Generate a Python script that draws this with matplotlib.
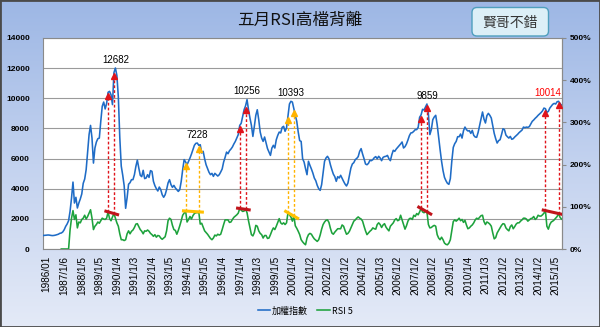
import numpy as np
import matplotlib
matplotlib.use('Agg')
import matplotlib.pyplot as plt
from matplotlib.patches import FancyBboxPatch, Rectangle
from matplotlib.colors import LinearSegmentedColormap
import matplotlib.transforms as mtransforms

plt.rcParams['font.family'] = ['Liberation Sans', 'Noto Sans CJK TC', 'DejaVu Sans']
CJK = ['Noto Sans CJK TC', 'DejaVu Sans']

# ---------------- data (monthly, starting 1986/01) ----------------
tick_labels = ['1986/01', '1987/1/6', '1988/1/5', '1989/1/5', '1990/1/4', '1991/1/3',
               '1992/1/4', '1993/1/5', '1994/1/5', '1995/1/5', '1996/1/4', '1997/1/4',
               '1998/1/3', '1999/1/5', '2000/1/4', '2001/1/2', '2002/1/2', '2003/1/2',
               '2004/1/2', '2005/1/3', '2006/1/2', '2007/1/2', '2008/1/2', '2009/1/5',
               '2010/1/4', '2011/1/3', '2012/1/2', '2013/1/2', '2014/1/2', '2015/1/5']

taiex = [
    900, 910, 920, 930, 920, 900, 890, 900, 920, 950, 980, 1040,            # 1986
    1060, 1130, 1280, 1500, 1660, 1880, 2500, 3380, 4440, 3050, 3430, 2720,  # 1987
    3050, 3320, 3650, 4360, 4640, 5260, 6430, 7590, 8200, 7360, 5700, 6700,  # 1988
    7100, 7320, 7360, 8470, 9470, 9750, 9290, 9660, 10400, 10460, 10240, 9580,  # 1989
    11700, 12010, 11520, 10100, 7400, 5500, 4900, 4200, 2700, 3400, 4300, 4400,  # 1990
    4600, 4600, 4930, 5480, 5900, 5370, 4890, 4800, 5220, 4670, 4710, 4930,  # 1991
    4750, 5200, 5150, 4490, 4200, 4000, 3850, 4110, 3940, 3600, 3430, 3600,  # 1992
    3940, 4380, 4600, 4270, 4090, 4220, 4050, 3940, 3820, 3940, 4490, 5260,  # 1993
    5930, 5770, 5590, 5820, 6040, 6300, 6590, 6880, 7010, 7030, 6880, 6920,  # 1994
    6370, 6480, 5990, 5590, 5330, 5090, 4930, 5020, 4820, 5020, 4930, 4840,  # 1995
    4930, 5110, 5310, 5770, 6080, 6430, 6320, 6520, 6630, 6770, 6970, 7140,  # 1996
    7360, 7590, 8200, 8340, 8780, 9240, 9500, 9910, 9240, 8690, 8200, 7470,  # 1997
    8140, 8870, 9240, 8580, 7760, 7360, 7140, 7430, 7030, 6660, 6430, 6210,  # 1998
    6700, 6880, 6700, 7250, 7540, 7760, 7700, 8070, 8140, 7810, 8030, 8800,  # 1999
    9620, 9800, 9750, 9310, 8870, 8470, 7760, 7190, 7140, 5990, 5770, 5330,  # 2000
    4930, 5820, 5550, 5310, 5040, 4710, 4530, 4220, 4000, 3890, 4270, 5040,  # 2001
    5820, 6040, 6150, 5990, 5590, 5260, 4970, 4800, 4490, 4800, 4710, 4890,  # 2002
    4690, 4490, 4310, 4180, 4380, 4890, 5370, 5640, 5730, 5930, 6010, 6130,  # 2003
    6480, 6660, 6300, 5990, 5640, 5590, 5680, 5880, 5860, 5930, 6060, 6130,  # 2004
    5990, 6150, 6040, 5860, 6080, 6130, 6150, 6210, 5990, 5860, 6260, 6550,  # 2005
    6480, 6630, 6740, 6850, 6970, 7100, 6700, 6790, 6970, 7230, 7520, 7700,  # 2006
    7720, 7810, 7920, 7920, 8070, 8740, 8900, 9270, 9220, 9420, 9620, 8960,  # 2007
    7590, 7920, 8580, 8760, 8870, 8250, 7410, 6590, 5820, 5200, 4750, 4530,  # 2008
    4360, 4290, 4670, 5820, 6740, 6990, 7140, 7450, 7450, 7630, 7360, 7850,  # 2009
    8090, 7920, 7830, 7850, 7670, 7870, 7540, 7430, 7410, 7740, 8200, 8690,  # 2010
    9090, 8620, 8360, 8850, 9000, 8870, 8690, 8160, 7670, 7320, 7030, 7190,  # 2011
    7250, 7590, 7980, 7920, 7560, 7450, 7360, 7470, 7280, 7320, 7430, 7520,  # 2012
    7610, 7720, 7810, 7890, 8090, 8050, 8090, 8070, 8120, 8290, 8470, 8560,  # 2013
    8670, 8760, 8870, 8960, 9050, 9160, 9350, 9310, 9070, 9130, 9350, 9470,  # 2014
    9600, 9660, 9620, 9770, 9800, 9640, 9550,                                # 2015
]

rsi5 = [np.nan] * 12 + [
    0, 0, 0, 0, 0, 0, 45, 73, 91, 70, 81, 50,                 # 1987
    64, 62, 70, 73, 80, 71, 77, 85, 93, 73, 46, 54,           # 1988
    58, 64, 61, 67, 73, 71, 70, 73, 88, 72, 67, 76,           # 1989
    84, 73, 62, 54, 36, 22, 22, 20, 22, 36, 43, 36,           # 1990
    42, 45, 51, 59, 60, 53, 46, 42, 36, 43, 42, 45,           # 1991
    42, 37, 34, 30, 34, 28, 32, 31, 26, 23, 26, 29,           # 1992
    43, 67, 73, 70, 56, 46, 44, 35, 44, 55, 67, 80,           # 1993
    85, 90, 64, 70, 77, 71, 79, 84, 86, 86, 88, 59,           # 1994
    61, 52, 43, 39, 35, 30, 25, 22, 26, 33, 31, 35,           # 1995
    33, 35, 46, 58, 69, 69, 69, 63, 64, 70, 75, 78,           # 1996
    81, 85, 96, 92, 89, 90, 94, 86, 67, 50, 34, 31,           # 1997
    39, 56, 54, 43, 37, 34, 26, 32, 32, 25, 26, 34,           # 1998
    43, 50, 46, 54, 63, 72, 62, 59, 62, 58, 62, 86,           # 1999
    81, 76, 66, 78, 55, 49, 42, 34, 22, 17, 13, 10,           # 2000
    26, 34, 37, 35, 29, 24, 21, 18, 22, 33, 47, 58,           # 2001
    64, 68, 69, 63, 49, 38, 35, 40, 44, 48, 48, 48,           # 2002
    57, 54, 44, 35, 37, 42, 50, 58, 66, 69, 73, 76,           # 2003
    73, 71, 66, 54, 43, 34, 38, 42, 45, 50, 48, 47,           # 2004
    58, 62, 58, 51, 57, 60, 52, 47, 43, 54, 58, 62,           # 2005
    69, 72, 67, 69, 80, 69, 58, 47, 55, 66, 72, 73,           # 2006
    70, 80, 77, 84, 81, 88, 96, 88, 86, 89, 88, 58,           # 2007
    50, 51, 54, 56, 54, 34, 26, 22, 28, 22, 14, 11,           # 2008
    10, 14, 22, 43, 65, 69, 66, 69, 73, 67, 70, 63,           # 2009
    68, 57, 48, 50, 54, 57, 62, 69, 73, 71, 75, 79,           # 2010
    80, 65, 58, 64, 62, 59, 54, 38, 24, 27, 38, 44,           # 2011
    50, 56, 60, 59, 50, 46, 43, 53, 57, 48, 53, 59,           # 2012
    62, 62, 66, 69, 73, 73, 71, 66, 69, 72, 73, 77,           # 2013
    70, 73, 80, 78, 78, 81, 85, 91, 54, 47, 58, 64,           # 2014
    66, 69, 73, 77, 84, 75, 71,                               # 2015
]

# divergence annotations: (first index, second index, colour kind, peak text)
div_first = [44, 97, 134, 167, 258, 343]
div_second = [48, 106, 138, 171, 262, 352]
div_kind = ['red', 'orange', 'red', 'orange', 'red', 'red']
peak_text = ['12682', '7228', '10256', '10393', '9859', '10014']
peak_text_color = ['black', 'black', 'black', 'black', 'black', '#FF0000']
peak_text_dx = [0, 0, 0, 0, 0, -8]

# ---------------- figure ----------------
W, H = 600, 327
fig = plt.figure(figsize=(W / 100, H / 100), dpi=100)

bg = fig.add_axes([0, 0, 1, 1], zorder=-10)
cmap = LinearSegmentedColormap.from_list('bg', ['#9DB7E5', '#C3D2EF', '#E4EAF7'])
bg.imshow(np.linspace(0, 1, 256).reshape(-1, 1), cmap=cmap, aspect='auto',
          extent=[0, 1, 0, 1], origin='upper')
bg.set_axis_off()

ax = fig.add_axes([43 / W, 1 - 249 / H, (561.5 - 43) / W, 211 / H])
ax.set_facecolor('white')

x = np.arange(len(taiex))
taiex_a = np.array(taiex, dtype=float)
rsi_a = np.array(rsi5, dtype=float)
ymax = 14000
rmax = 500
scale = ymax / rmax

blue = '#1F6CC6'
green = '#1DA23C'
ax.plot(x, taiex_a, color=blue, lw=1.15, zorder=3)
ax.plot(x, rsi_a * scale, color=green, lw=1.15, zorder=3)

ax.set_xlim(-0.5, len(taiex) - 1)
ax.set_ylim(0, ymax)
ax.set_yticks(np.arange(0, ymax + 1, 2000))
ax.set_yticklabels([f'{v:d}' for v in range(0, ymax + 1, 2000)])
ax.tick_params(axis='y', length=0, pad=9.5, labelsize=6)
for lab in ax.get_yticklabels():
    lab.set_fontweight('bold')
ax.yaxis.grid(True, color='#9A9A9A', lw=0.8)
ax.set_axisbelow(True)

ax.set_xticks(np.arange(len(tick_labels)) * 12)
ax.set_xticklabels(tick_labels, rotation=90, fontsize=7.2)
ax.tick_params(axis='x', length=0, pad=5)
shift = mtransforms.ScaledTranslation(3 / 100, 0, fig.dpi_scale_trans)
for lab in ax.get_xticklabels():
    lab.set_transform(lab.get_transform() + shift)

for sp in ax.spines.values():
    sp.set_color('#8A8A8A')
    sp.set_linewidth(0.8)

sec = ax.secondary_yaxis('right', functions=(lambda v: v / scale, lambda r: r * scale))
sec.set_yticks(np.arange(0, rmax + 1, 100))
sec.set_yticklabels([f'{v:d}%' for v in range(0, rmax + 1, 100)])
sec.tick_params(length=3, color='#8A8A8A', pad=3, labelsize=6)
for lab in sec.get_yticklabels():
    lab.set_fontweight('bold')
sec.spines['right'].set_color('#8A8A8A')
sec.spines['right'].set_linewidth(0.8)

# ---------------- divergence marks ----------------
kind_style = {'red': ('#E0141B', '#C0141B'), 'orange': ('#FFB300', '#FFC000')}
ms = 4.5
down = mtransforms.ScaledTranslation(0, -(ms / 2 + 0.5) / 72, fig.dpi_scale_trans)
for i1, i2, kind, txt, tc, dx in zip(div_first, div_second, div_kind, peak_text,
                                     peak_text_color, peak_text_dx):
    c_arrow, c_seg = kind_style[kind]
    slope = (rsi_a[i2] - rsi_a[i1]) / (i2 - i1)
    xs = np.array([i1 - 2.5, i2 + 3.5])
    ys = (rsi_a[i1] + slope * (xs - i1)) * scale
    ax.plot(xs, ys, color=c_seg, lw=2.2, solid_capstyle='butt', zorder=6)
    for i in (i1, i2):
        ax.plot([i, i], [rsi_a[i] * scale, taiex_a[i] - 250], color=c_arrow, lw=1.0,
                ls=(0, (2, 1.5)), zorder=4)
        ax.plot([i], [taiex_a[i]], marker='^', ms=ms, color=c_arrow, mec=c_arrow,
                transform=ax.transData + down, zorder=7)
    win = np.arange(i1 - 2, min(i2 + 4, len(taiex)))
    p = win[np.argmax(taiex_a[win])]
    ax.annotate(txt, (p, taiex_a[p]), xytext=(dx, 2.5), textcoords='offset points',
                ha='center', va='bottom', fontsize=7, color=tc, zorder=8)

# ---------------- title, badge, legend ----------------
fig.text(0.5, 1 - 20 / H, '五月RSI高檔背離', ha='center', va='center', fontsize=12,
         family=CJK, color='#111111')

badge = FancyBboxPatch((4.72, (H - 36) / 100), 0.765, 0.285,
                       boxstyle='round,pad=0,rounding_size=0.05',
                       transform=fig.dpi_scale_trans, facecolor='#DCEFF7',
                       edgecolor='#4F9FBE', lw=1.0, zorder=5)
fig.patches.append(badge)
fig.text(510 / W, 1 - 22.5 / H, '賢哥不錯', ha='center', va='center', fontsize=10,
         family=CJK, color='#333333', zorder=6)

h1, = ax.plot([], [], color=blue, lw=1.15)
h2, = ax.plot([], [], color=green, lw=1.15)
fig.legend([h1, h2], ['加權指數', 'RSI 5'], loc='center', bbox_to_anchor=(305 / W, 1 - 311 / H),
           ncol=2, frameon=False, fontsize=6.5, handlelength=1.4, handletextpad=0.2,
           columnspacing=1.0, prop={'family': CJK, 'size': 6.5})

fig.patches.append(Rectangle((0, 0), 1, 1, transform=fig.transFigure, fill=False,
                             edgecolor='#4A4A4A', lw=2.0, zorder=10))

fig.savefig('out.png', dpi=100)
